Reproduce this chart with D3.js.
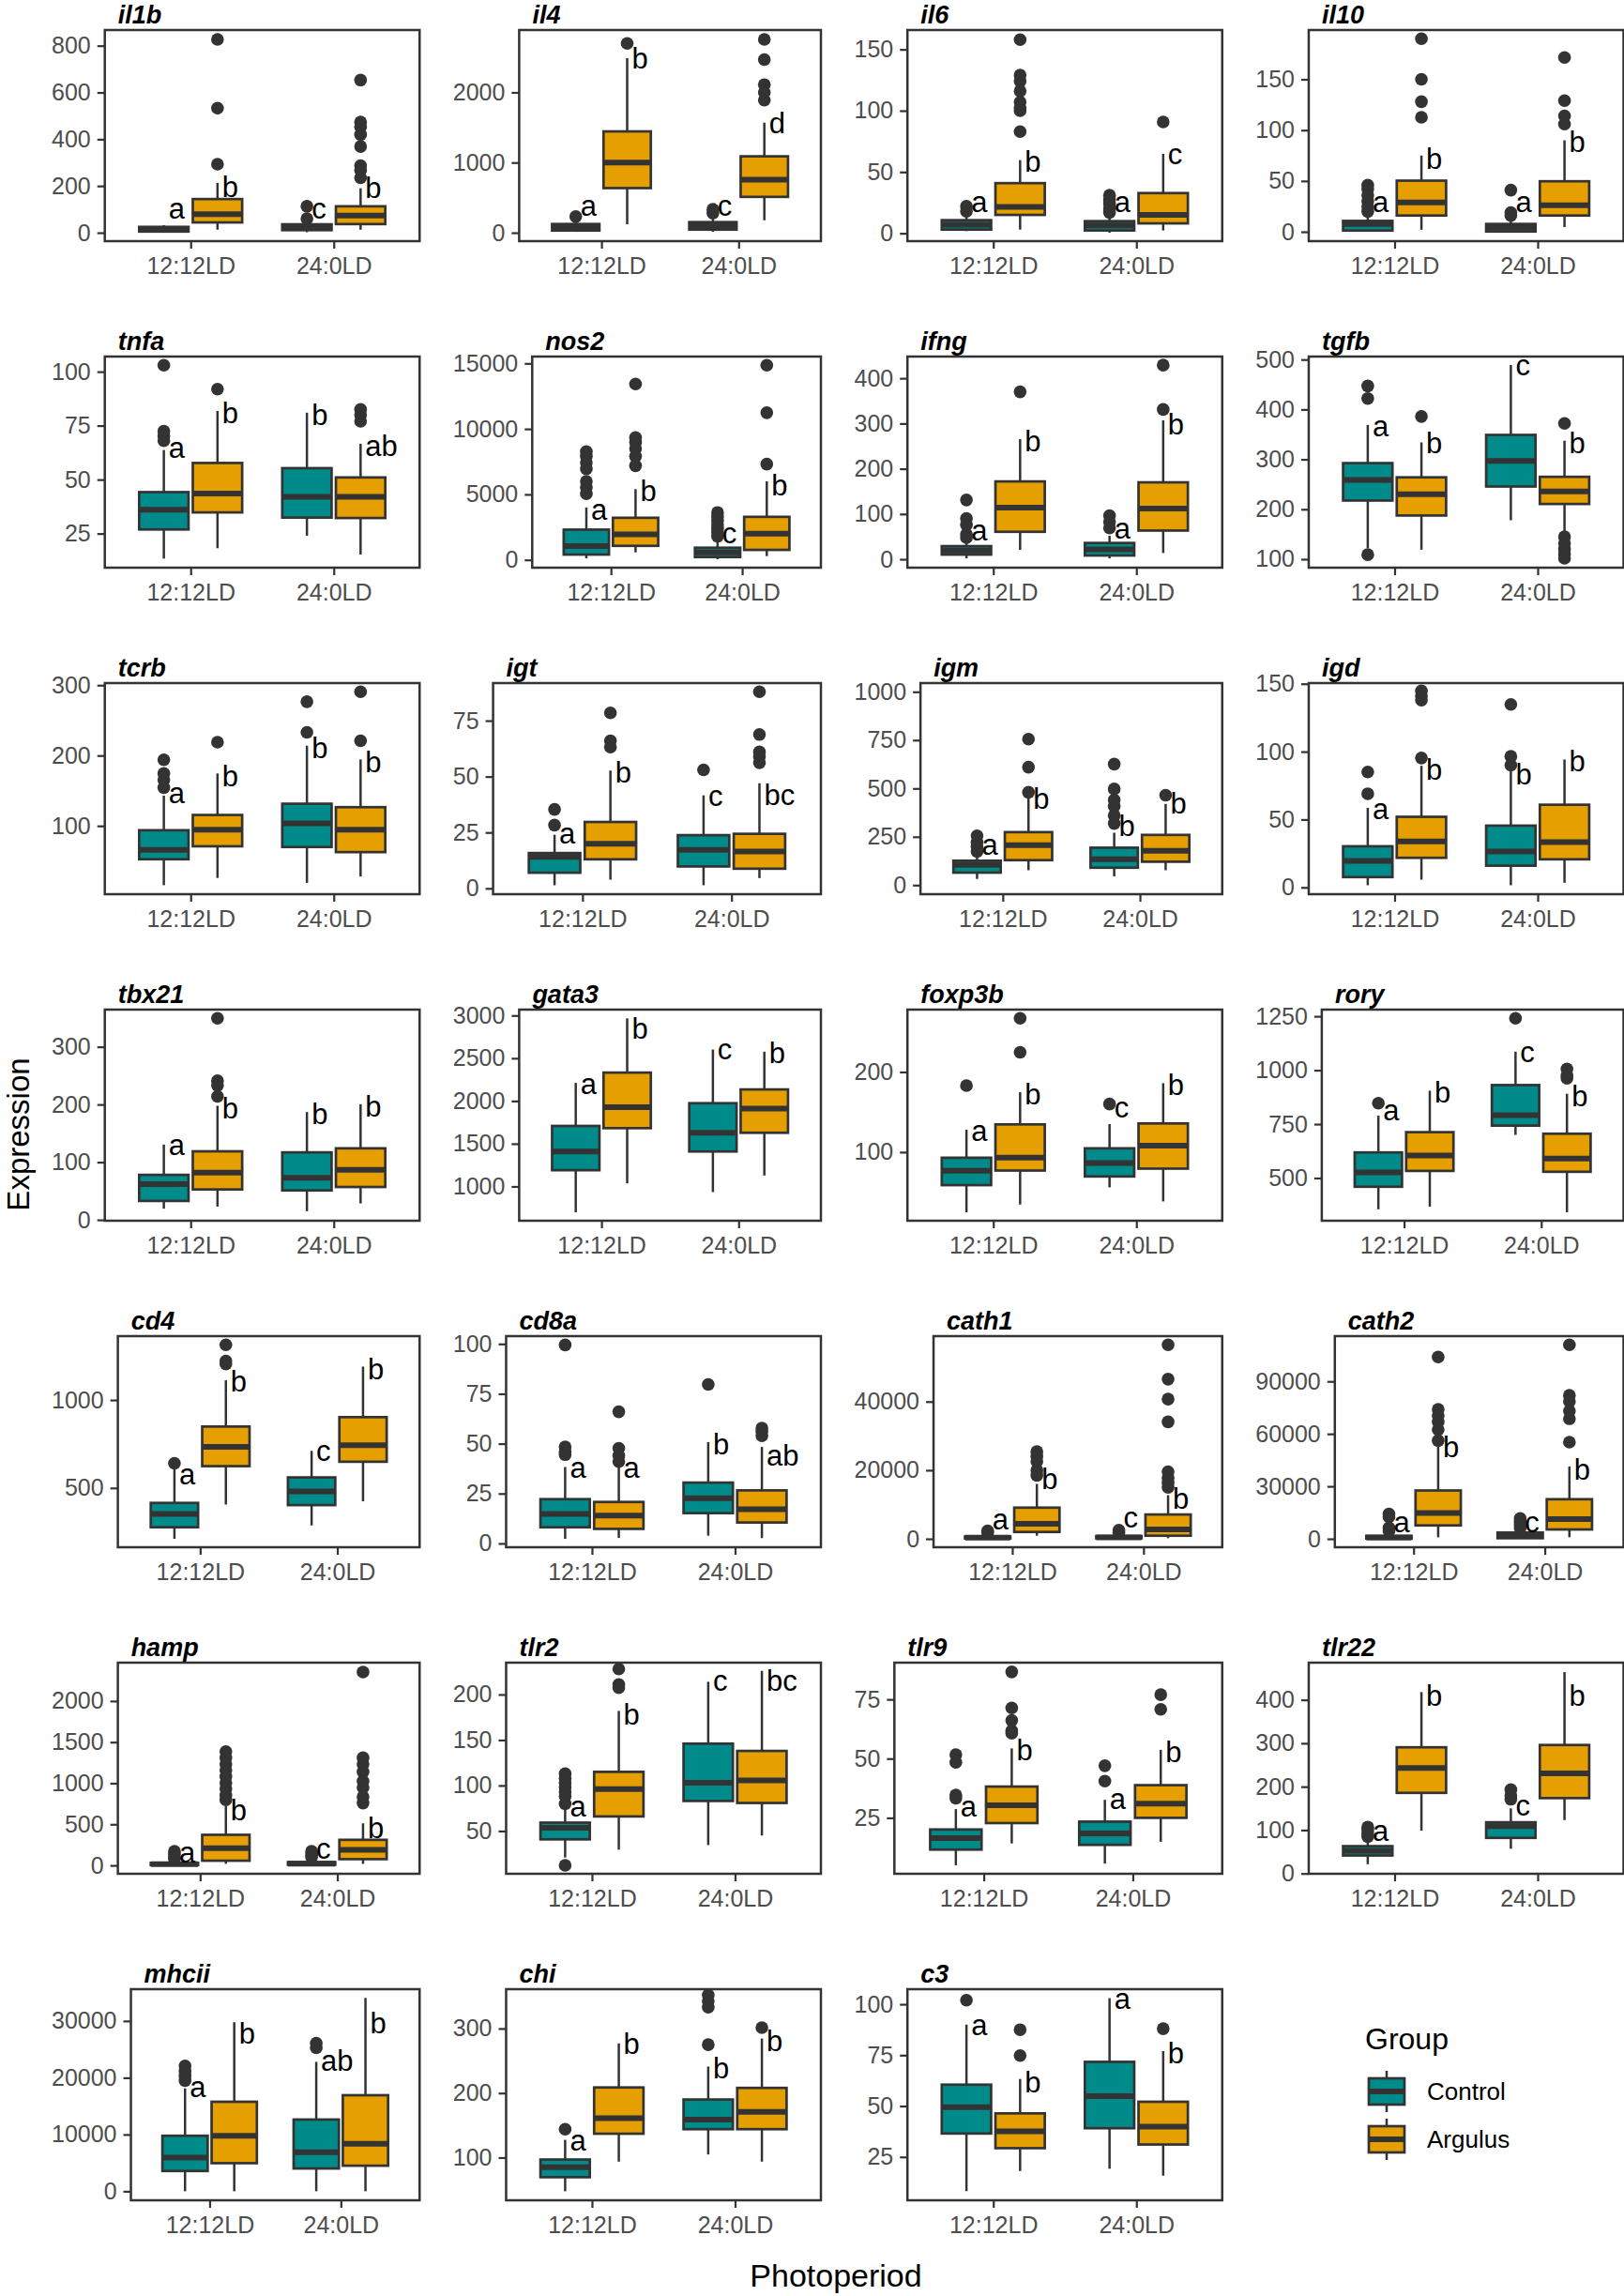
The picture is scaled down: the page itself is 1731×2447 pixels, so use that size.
<!DOCTYPE html>
<html><head><meta charset="utf-8">
<script src="https://cdn.jsdelivr.net/npm/d3@7"></script>
<style>body{margin:0;background:#fff}</style>
</head><body>
<svg id="chart" width="1731" height="2447"></svg>
<script>
// ---------------- data ----------------
const genes = ["il1b","il4","il6","il10","tnfa","nos2","ifng","tgfb","tcrb","igt","igm","igd",
  "tbx21","gata3","foxp3b","rory","cd4","cd8a","cath1","cath2","hamp","tlr2","tlr9","tlr22","mhcii","chi","c3"];
const periods = ["12:12LD","24:0LD"];
const groupNames = ["Control","Argulus"];
const groupColors = ["#008B8B","#E69F00"];

const yTicks = [
  [0,200,400,600,800],[0,1000,2000],[0,50,100,150],[0,50,100,150],
  [25,50,75,100],[0,5000,10000,15000],[0,100,200,300,400],[100,200,300,400,500],
  [100,200,300],[0,25,50,75],[0,250,500,750,1000],[0,50,100,150],
  [0,100,200,300],[1000,1500,2000,2500,3000],[100,200],[500,750,1000,1250],
  [500,1000],[0,25,50,75,100],[0,20000,40000],[0,30000,60000,90000],
  [0,500,1000,1500,2000],[50,100,150,200],[25,50,75],[0,100,200,300,400],
  [0,10000,20000,30000],[100,200,300],[25,50,75,100]
];
const yLimits = [
  [-36,867],[-120,2889],[-6.4,165.8],[-9.2,198.5],
  [9.2,107],[-595,15524],[-18.6,448],[83,506],
  [2.9,303],[-2.6,91.8],[-47,1045],[-5,150.5],
  [-1.5,364.5],[599,3069],[14.4,277.8],[302,1281],
  [163,1363],[-1.9,103.9],[-2454,59090],[-4813,115864],
  [-102,2467],[3,235],[1.4,90.5],[-0.7,485.7],
  [-1593,35604],[33.8,361],[3.7,107.4]
];
// per gene: [Control 12:12, Argulus 12:12, Control 24:0, Argulus 24:0]
// each: [lower whisker, Q1, median, Q3, upper whisker]
const boxStats = [
  [[1,5,12,25,32],[13,44,79,144,213],[2,11,24,36,45],[13,37,73,113,190]],
  [[13,31,75,124,180],[120,636,1000,1444,2489],[13,44,93,151,230],[178,511,756,1089,1569]],
  [[1.8,3,6.9,10.7,15],[3,15,21.6,40.9,59.7],[0.5,2.3,6.4,9.9,14],[2.3,8.1,15,32.8,64.8]],
  [[0.3,1.2,7.7,10.7,18],[2,16,28.8,50.3,75],[0.1,0.3,4.3,7.7,11],[4.6,16,26,49.7,90]],
  [[13.4,26.9,36,44.2,63.7],[18.2,34.8,43.5,57.7,81.8],[24,32.4,42,55.3,81],[15.3,32.2,42,51,66.6]],
  [[119,405,1048,2310,4000],[571,1071,1952,3214,5405],[50,214,571,929,1400],[286,762,2000,3286,6000]],
  [[2,10.3,19.3,29,40],[20.7,60.7,114,172,265.5],[2,8.3,22,36,52],[13.8,63.4,112,170,307]],
  [[122,217.5,259,292.5,369],[119,187.5,230,264,334],[178,245.6,297,349,489],[153,210.6,235.6,265,337.5]],
  [[15.7,52.6,66,93.8,143],[26,71,94.7,115.5,174.5],[19,70,103.5,131.5,214],[28,62.7,94.7,126.6,194.5]],
  [[1.4,7,14.1,15.8,24],[3.9,13,20,29.7,52.7],[1.4,9.8,17.2,23.8,41.6],[4.6,8.8,16.5,24.4,47]],
  [[32,64.5,105,126,165],[77,129,206,274,448],[45,90,134,193.5,271],[77,121,177,259.7,420]],
  [[1.6,7.6,19.5,30.3,58.6],[5.7,21.8,33.8,52,89.6],[1.6,16,26.4,45.5,86],[3.4,20.7,33.3,60.9,94.2]],
  [[19.4,32.8,61.8,78,130.6],[23,52.7,82,118.8,197.8],[15,51,73,117,187],[28.5,57,86.6,124,200.5]],
  [[697,1190,1409,1708,2212],[1036,1682,1927,2332,2967],[934,1409,1628,1974,2602],[1128,1628,1912,2135,2577]],
  [[24.9,58.8,76.7,93,128],[34.6,77,93,134.6,174.7],[56,69.6,86.4,104.7,135],[38.5,79.4,108,135.8,186]],
  [[355,459.5,526,618.7,789],[367,533,604,712.7,905],[700,743,792,931,1086],[341,529,590,705.5,891]],
  [[211,276.6,353,415,610],[406,624,734,849,1112],[287,402.5,480.5,560,711],[424,649,743,902.5,1190]],
  [[2.3,8.1,14.8,22.2,38.3],[2.8,7.3,14,20.8,38.3],[3.9,15.2,22.7,30.5,50.8],[2.7,10.5,17.2,26.6,48.4]],
  [[0,100,350,700,1400],[900,2000,4364,9091,16000],[0,150,400,800,1300],[182,909,2727,7091,12727]],
  [[0,200,700,1700,3500],[891,7665,14795,27630,53476],[0,356,1782,3565,5000],[891,5348,11230,22638,41355]],
  [[0,5,15,30,50],[19,57,209,372,721],[0,8,20,40,60],[19,76,190,311,512]],
  [[20.9,40.8,53.4,59.2,74],[29.5,66,96,115,182],[34.6,83,103,146,214],[45,80.8,105.5,138,226]],
  [[5,11.6,16.4,20.1,28.7],[14.2,22.8,30.3,38.2,54.3],[5.7,13.6,18.4,23.4,32.6],[14.9,25,31,38.8,53.7]],
  [[21.4,41.4,52,62.9,71.4],[98.6,185.7,243,290.7,418],[57,82,109,117.9,150],[123,173.6,230.7,296,464]],
  [[0,3571,5934,9780,18132],[0,4945,9780,15769,29780],[0,4011,6868,12637,22800],[0,4505,8352,16923,34066]],
  [[47.8,69.6,85,97,127.5],[93.7,137,161,208.7,277],[104.8,144,159,190,241],[93.7,144,171,208,284.5]],
  [[8.2,36.5,49.5,60.5,90],[18.1,29.3,37.6,46.4,63.3],[19.2,39.1,54.9,71.7,103],[15.8,31.1,39.9,52.1,77]]
];
const outliers = [
  [[],[827,533,293],[113,60],[653,473,453,420,369,287,267,235]],
  [[230],[2698],[333,280],[2756,2467,2111,2000,1889]],
  [[22,18],[158,129,124,116,107,102,100,83],[31,27,24,20,17],[90.8]],
  [[46,42,36,30,25,20],[190,150,128,112.6],[41,19,16],[171.5,129,114,106]],
  [[103,72.4,70.2,68],[91.9],[],[82.5,80,77]],
  [[8262,7905,7429,6952,6000,5524,5048],[13429,9333,8976,8500,7905,7190],[3619,3300,3000,2700,2400,2100,1800],[14857,11238,7310]],
  [[131,90,76,55,48],[370],[96.5,83,69],[429,331]],
  [[447,422,109],[386],[],[372,145,132,120,110,102]],
  [[194,174.5,165.6,154.5],[219],[276.5,233],[290.7,221]],
  [[35.3,28.3],[78.5,66,63.2],[53],[87.9,68.8,61,59,56.2]],
  [[255,222.6,198,174],[755,610,480],[626,497,440,408,360,319],[465]],
  [[85,69],[144.7,141,138,95.3],[134.8,96.5,90],[]],
  [[],[349.5,241,233,214],[],[]],
  [[],[],[],[]],
  [[183],[267,224.5],[160],[]],
  [[847],[],[1241],[1006,975,963]],
  [[640],[1314,1222,1204],[],[]],
  [[99.5,48.4,46,44.5],[66,47.7,44,41],[79.7],[57.8,56,54]],
  [[1800,2300],[25400,24000,22500,20000,18500],[1800,2500],[56545,46545,40727,34090,19545,17727,16364,15000]],
  [[14260,12480,6240,4456],[103922,73975,70410,66845,62389,56150],[11586,9500,8000,6239],[110873,82000,78431,73084,68627,55258]],
  [[171,133,95,80],[1385,1309,1233,1157,1082,1006,930,854,797],[171,133,100],[2353,1309,1233,1138,1025,949,835,759]],
  [[113,108,103,98,93,88,80,12.3],[228,211,207.5],[],[]],
  [[51.7,48.4,34.6,33.3],[86.6,71.4,66.1,61.8,60.7],[47,40.5],[77,70.8]],
  [[107,100,92,85],[],[193,179,171],[]],
  [[22088,21154,20330,19505],[],[26099,25275],[]],
  [[144],[],[352,342.5,333,275],[301.4]],
  [[102],[87.5,74.8],[],[88]]
];
const letters = [
  ["a","b","c","b"],["a","b","c","d"],["a","b","a","c"],["a","b","a","b"],
  ["a","b","b","ab"],["a","b","c","b"],["a","b","a","b"],["a","b","c","b"],
  ["a","b","b","b"],["a","b","c","bc"],["a","b","b","b"],["a","b","b","b"],
  ["a","b","b","b"],["a","b","c","b"],["a","b","c","b"],["a","b","c","b"],
  ["a","b","c","b"],["a","a","b","ab"],["a","b","c","b"],["a","b","c","b"],
  ["a","b","c","b"],["a","b","c","bc"],["a","b","a","b"],["a","b","c","b"],
  ["a","b","ab","b"],["a","b","b","b"],["a","b","a","b"]
];
const letterY = [
  [91,196,93,193],[356,2489,356,1569],[23.4,59,23.4,62.8],[26.7,72.7,26.7,89],
  [63.7,81,80.3,66],[3619,5286,1833,5762],[58.6,262,62,300],[362,334,484,334],
  [143,172,212,192],[23.4,52,40.4,41.8],[198,448,311,424],[56,87.3,84,93],
  [125,195,184,198],[2175,2850,2577,2566],[123,172.8,153,184],[804,898,1072,883],
  [566,1106,698.6,1177],[36.7,36.7,50,44.5],[5000,17700,5454,11800],[8000,52584,8021,40107],
  [133,683,171,463],[74,178.4,212.7,216],[28.7,53.7,32,53],[93,410.7,150,410],
  [17857,27912,23077,29670],[122.7,277,238.6,282],[88.5,61.8,101.6,76.3]
];

// ---------------- layout ----------------
const FONT = '"Liberation Sans", Arial, Helvetica, sans-serif';
const ink = "#333333";
const gridLeft = 20, cellW = 427.75, rowTop0 = 32, rowPitch = 348, panelH = 225;
const svg = d3.select("#chart").attr("font-family", FONT);

const meas = svg.append("text").attr("font-size", 25).attr("visibility", "hidden");
function tw(s){ meas.text(s); return meas.node().getComputedTextLength(); }

genes.forEach((gene, i) => {
  const col = i % 4, row = Math.floor(i / 4);
  const cellLeft = gridLeft + col * cellW;
  const labW = d3.max(yTicks[i], t => tw(String(t)));
  const x0 = cellLeft + 35 + labW + 15, x1 = cellLeft + cellW - 0.5;
  const y0 = rowTop0 + row * rowPitch, y1 = y0 + panelH;

  const x = d3.scalePoint().domain(periods).range([x0, x1]).padding(0.6);
  const step = x.step();
  const y = d3.scaleLinear().domain(yLimits[i]).range([y1, y0]);
  const g = svg.append("g");

  // axes
  const ya = g.append("g").attr("transform", `translate(${x0},0)`)
    .call(d3.axisLeft(y).tickValues(yTicks[i]).tickSize(8).tickPadding(7).tickFormat(d => String(d)));
  const xa = g.append("g").attr("transform", `translate(0,${y1})`)
    .call(d3.axisBottom(x).tickSize(8).tickPadding(9));
  [ya, xa].forEach(a => {
    a.select(".domain").remove();
    a.selectAll(".tick line").attr("stroke", ink).attr("stroke-width", 2.2);
    a.selectAll(".tick text").attr("fill", "#4D4D4D").attr("font-size", 25).attr("font-family", FONT);
  });

  const hw = 0.345 * step / 2;
  const data = boxStats[i].map((s, j) => ({
    s, j, grp: j % 2, per: periods[Math.floor(j / 2)],
    xc: x(periods[Math.floor(j / 2)]) + (j % 2 === 0 ? -1 : 1) * 0.1875 * step,
    out: outliers[i][j], lab: letters[i][j], ly: letterY[i][j]
  }));

  const bx = g.selectAll("g.box").data(data).join("g").attr("class", "box");
  bx.append("line").attr("x1", d => d.xc).attr("x2", d => d.xc)
    .attr("y1", d => y(d.s[3])).attr("y2", d => y(d.s[4]))
    .attr("stroke", ink).attr("stroke-width", 2.5);
  bx.append("line").attr("x1", d => d.xc).attr("x2", d => d.xc)
    .attr("y1", d => y(d.s[1])).attr("y2", d => y(d.s[0]))
    .attr("stroke", ink).attr("stroke-width", 2.5);
  bx.append("rect").attr("x", d => d.xc - hw).attr("width", 2 * hw)
    .attr("y", d => y(d.s[3])).attr("height", d => Math.max(0.5, y(d.s[1]) - y(d.s[3])))
    .attr("fill", d => groupColors[d.grp]).attr("stroke", ink).attr("stroke-width", 2.7);
  bx.append("line").attr("x1", d => d.xc - hw).attr("x2", d => d.xc + hw)
    .attr("y1", d => y(d.s[2])).attr("y2", d => y(d.s[2]))
    .attr("stroke", ink).attr("stroke-width", 6);
  bx.selectAll("circle").data(d => d.out.map(v => ({v, xc: d.xc}))).join("circle")
    .attr("cx", d => d.xc).attr("cy", d => y(d.v)).attr("r", 6.8).attr("fill", ink);
  bx.append("text").attr("x", d => d.xc + 5)
    .attr("y", d => y(d.ly) + (/[bd]/.test(d.lab) ? 11.3 : 8.1))
    .attr("font-size", 31).attr("fill", "#000").text(d => d.lab);

  // panel border
  g.append("rect").attr("x", x0).attr("y", y0).attr("width", x1 - x0).attr("height", y1 - y0)
    .attr("fill", "none").attr("stroke", ink).attr("stroke-width", 2.5);
  // title
  g.append("text").attr("x", x0 + 14).attr("y", y0 - 7)
    .attr("font-size", 27).attr("font-weight", "bold").attr("font-style", "italic")
    .attr("fill", "#000").text(gene);
});

// axis titles
svg.append("text").attr("transform", "translate(30.5,1209) rotate(-90)")
  .attr("text-anchor", "middle").attr("font-size", 33).attr("fill", "#000").text("Expression");
svg.append("text").attr("x", 891).attr("y", 2437)
  .attr("text-anchor", "middle").attr("font-size", 34).attr("fill", "#000").text("Photoperiod");

// legend
const lg = svg.append("g");
lg.append("text").attr("x", 1455).attr("y", 2184).attr("font-size", 32).attr("fill", "#000").text("Group");
const keyTops = [2207, 2258];
groupNames.forEach((name, k) => {
  const t = keyTops[k], cx = 1478;
  lg.append("line").attr("x1", cx).attr("x2", cx).attr("y1", t).attr("y2", t + 44)
    .attr("stroke", ink).attr("stroke-width", 2.5);
  lg.append("rect").attr("x", 1459).attr("y", t + 8).attr("width", 38).attr("height", 28)
    .attr("fill", groupColors[k]).attr("stroke", ink).attr("stroke-width", 2.7);
  lg.append("line").attr("x1", 1459).attr("x2", 1497).attr("y1", t + 22).attr("y2", t + 22)
    .attr("stroke", ink).attr("stroke-width", 6);
  lg.append("text").attr("x", 1521).attr("y", t + 22).attr("dy", "0.35em")
    .attr("font-size", 26).attr("fill", "#000").text(name);
});
meas.remove();
</script>
</body></html>
